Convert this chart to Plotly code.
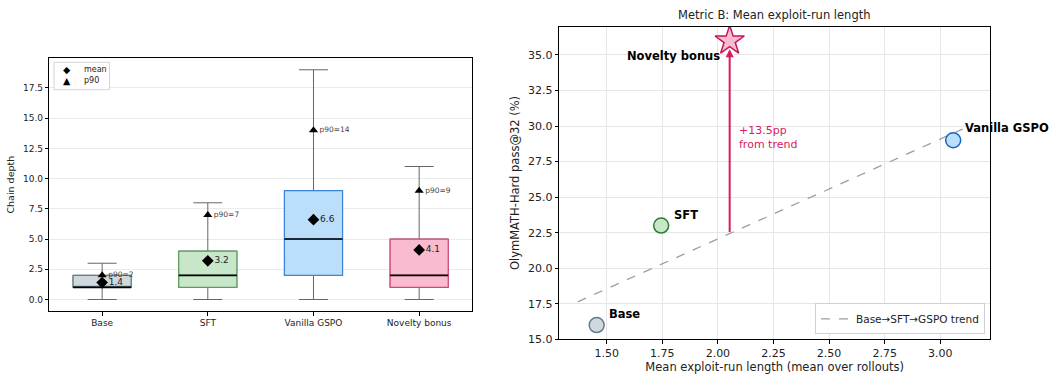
import numpy as np
import plotly.graph_objects as go

# ---------- Left panel data: chain depth distributions ----------
box_cats = ["Base", "SFT", "Vanilla GSPO", "Novelty bonus"]
q1 = [1, 1, 2, 1]
medians = [1, 2, 5, 2]
q3 = [2, 4, 9, 5]
lower_w = [0, 0, 0, 0]
upper_w = [3, 8, 19, 11]
means = [1.4, 3.2, 6.6, 4.1]
p90s = [2, 7, 14, 9]
box_fill = ["#cfd8dc", "#c8e6c9", "#bbdefb", "#f8bbd0"]
box_edge = ["#607d8b", "#5a9e5e", "#3b84d6", "#d6447a"]

# ---------- Right panel data ----------
pt_names = ["Base", "SFT", "Vanilla GSPO", "Novelty bonus"]
pt_x = [1.455, 1.745, 3.058, 2.053]
pt_y = [16.0, 23.0, 29.0, 36.0]
pt_fill = ["#cfd8dc", "#c8e6c9", "#bbdefb", "#f8bbd0"]
pt_edge = ["#607d8b", "#2e7d32", "#1565c0", "#c2185b"]
trend_x_ext = [1.37, 3.10]
gap_label = "+13.5pp<br>from trend"

FONT = "DejaVu Sans"
W, H = 1052, 375


def px(x):
    return x / W


def py(y):
    return (H - y) / H


fig = go.Figure()

pos = list(range(1, len(box_cats) + 1))
bw = 0.55
for i, c in enumerate(box_cats):
    fig.add_trace(go.Box(x=[pos[i]], q1=[q1[i]], median=[medians[i]], q3=[q3[i]],
                         lowerfence=[lower_w[i]], upperfence=[upper_w[i]],
                         width=bw, whiskerwidth=0.5, fillcolor="rgba(0,0,0,0)",
                         line=dict(color="#666666", width=1), showlegend=False,
                         hoverinfo="skip", xaxis="x", yaxis="y"))
    fig.add_trace(go.Box(x=[pos[i]], q1=[q1[i]], median=[medians[i]], q3=[q3[i]],
                         lowerfence=[q1[i]], upperfence=[q3[i]],
                         width=bw, whiskerwidth=0, fillcolor=box_fill[i],
                         line=dict(color=box_edge[i], width=1.2), showlegend=False,
                         hoverinfo="skip", xaxis="x", yaxis="y"))
    fig.add_trace(go.Scatter(x=[pos[i] - bw / 2, pos[i] + bw / 2], y=[medians[i], medians[i]],
                             mode="lines", line=dict(color="black", width=1.6),
                             showlegend=False, hoverinfo="skip", xaxis="x", yaxis="y"))

fig.add_trace(go.Scatter(x=pos, y=means, mode="markers+text", name="mean", showlegend=False,
                         marker=dict(symbol="diamond", size=9, color="black"),
                         text=[f"{m:.1f}" for m in means], textposition="middle right",
                         textfont=dict(family=FONT, size=9, color="#222222"),
                         xaxis="x", yaxis="y"))
fig.add_trace(go.Scatter(x=pos, y=p90s, mode="markers+text", name="p90", showlegend=False,
                         marker=dict(symbol="triangle-up", size=8, color="black"),
                         text=[f"p90={p}" for p in p90s], textposition="middle right",
                         textfont=dict(family=FONT, size=7.5, color="#444444"),
                         xaxis="x", yaxis="y"))

# ---------- Right panel ----------
slope, icpt = np.polyfit(pt_x[:3], pt_y[:3], 1)
tx = np.array(trend_x_ext)
fig.add_trace(go.Scatter(x=tx, y=slope * tx + icpt, mode="lines",
                         name="Base→SFT→GSPO trend",
                         line=dict(color="#9e9e9e", width=1.3, dash="dash"),
                         xaxis="x2", yaxis="y2", legend="legend2"))

for i in range(3):
    fig.add_trace(go.Scatter(x=[pt_x[i]], y=[pt_y[i]], mode="markers", showlegend=False,
                             marker=dict(size=15, color=pt_fill[i],
                                         line=dict(color=pt_edge[i], width=1.5)),
                             xaxis="x2", yaxis="y2"))

nov_trend = slope * pt_x[3] + icpt
fig.add_annotation(x=pt_x[3], y=pt_y[3] - 0.6, ax=pt_x[3], ay=nov_trend,
                   xref="x2", yref="y2", axref="x2", ayref="y2",
                   showarrow=True, arrowhead=2, arrowsize=0.8, arrowwidth=2,
                   arrowcolor="#d81b60", text="")
fig.add_trace(go.Scatter(x=[pt_x[3]], y=[pt_y[3]], mode="markers", showlegend=False,
                         marker=dict(symbol="star", size=22, color=pt_fill[3],
                                     line=dict(color=pt_edge[3], width=1.5)),
                         xaxis="x2", yaxis="y2"))

fig.add_annotation(x=pt_x[3] + 0.033, y=(pt_y[3] + nov_trend) / 2, xref="x2", yref="y2",
                   text=gap_label, showarrow=False, xanchor="left", yanchor="middle", align="left",
                   font=dict(family=FONT, size=11, color="#d81b60"))

lbl_off = [(0.045, 0.76, "left", "middle"), (0.05, 0.74, "left", "middle"),
           (0.043, 0.86, "left", "middle"), (-0.033, -1.1, "right", "middle")]
for i, n in enumerate(pt_names):
    dx, dy, xa, ya = lbl_off[i]
    fig.add_annotation(x=pt_x[i] + dx, y=pt_y[i] + dy, xref="x2", yref="y2",
                       text=f"<b>{n}</b>", showarrow=False, xanchor=xa, yanchor=ya,
                       font=dict(family=FONT, size=11.5, color="black"))

# ---------- Left legend (drawn box) ----------
fig.add_shape(type="rect", xref="paper", yref="paper", layer="above",
              x0=px(54), x1=px(109.5), y0=py(89.7), y1=py(62.3),
              fillcolor="rgba(255,255,255,0.9)", line=dict(color="#d4d4d4", width=1))
leg_items = [("◆", "mean", 70), ("▲", "p90", 80.5)]
for sym, lab, yy in leg_items:
    fig.add_annotation(x=px(66.7), y=py(yy), xref="paper", yref="paper", text=sym,
                       showarrow=False, xanchor="center", yanchor="middle",
                       font=dict(family=FONT, size=9.5, color="black"))
    fig.add_annotation(x=px(81.5), y=py(yy), xref="paper", yref="paper", text=lab,
                       showarrow=False, xanchor="left", yanchor="middle",
                       font=dict(family=FONT, size=8, color="#222222"))

axis_common = dict(showline=True, linecolor="black", linewidth=1, mirror=True,
                   ticks="outside", ticklen=3.5, tickcolor="black", zeroline=False,
                   automargin=False)

fig.update_layout(
    width=W, height=H, autosize=False,
    margin=dict(l=0, r=0, t=0, b=0, autoexpand=False),
    paper_bgcolor="white", plot_bgcolor="white",
    font=dict(family=FONT, color="#222222"),
    boxmode="overlay",
    xaxis=dict(domain=[px(49.3), px(472)], range=[0.5, 4.5], tickvals=pos, ticktext=box_cats,
               showgrid=False, tickfont=dict(family=FONT, size=9, color="#222222"),
               **axis_common),
    yaxis=dict(domain=[py(311), py(58.3)], range=[-0.95, 19.95], tick0=0, dtick=2.5,
               tickformat=".1f", showgrid=True, gridcolor="#ebebeb",
               title=dict(text="Chain depth", font=dict(family=FONT, size=9.5), standoff=6),
               tickfont=dict(family=FONT, size=9, color="#222222"),
               **axis_common),
    xaxis2=dict(domain=[px(559.3), px(990)], range=[1.287, 3.2235], tick0=1.5, dtick=0.25,
                tickformat=".2f", showgrid=True, gridcolor="#e6e6e6", anchor="y2",
                title=dict(text="Mean exploit-run length (mean over rollouts)",
                           font=dict(family=FONT, size=11.5), standoff=2),
                tickfont=dict(family=FONT, size=11, color="#222222"),
                **axis_common),
    yaxis2=dict(domain=[py(339.3), py(26.7)], range=[15.0, 36.99], tick0=15, dtick=2.5,
                tickformat=".1f", showgrid=True, gridcolor="#e6e6e6", anchor="x2",
                title=dict(text="OlymMATH-Hard pass@32 (%)", font=dict(family=FONT, size=11.5),
                           standoff=6),
                tickfont=dict(family=FONT, size=11, color="#222222"),
                **axis_common),
    legend2=dict(x=px(985), y=py(334.3), xanchor="right", yanchor="bottom", bgcolor="white",
                 bordercolor="#d0d0d0", borderwidth=1, font=dict(family=FONT, size=10.5),
                 itemwidth=30),
    annotations=list(fig.layout.annotations) + [
        dict(x=px(774.6), y=py(15.3), xref="paper", yref="paper",
             text="Metric B: Mean exploit-run length",
             showarrow=False, xanchor="center", yanchor="middle",
             font=dict(family=FONT, size=11.5, color="#222222"))
    ],
)

fig.write_html("out.html", config={"displayModeBar": False},
               post_script="document.body.style.margin='0';document.body.style.overflow='hidden';")
